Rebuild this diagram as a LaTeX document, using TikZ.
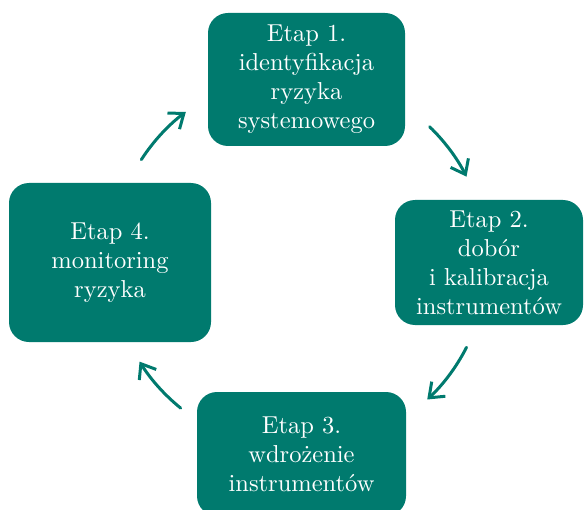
\documentclass[tikz,border=0pt]{standalone}
\usepackage{fontspec}
\setmainfont{lmroman10-regular.otf}
\usetikzlibrary{arrows.meta}
\definecolor{etapTeal}{RGB}{0,122,110}

\begin{document}
\begin{tikzpicture}[x=1pt, y=1pt]%
  \tikzset{etap box/.style={fill=etapTeal, rounded corners=20pt, text=white, align=center, inner sep=0pt, font=\fontsize{24.5}{29}\selectfont}}
  \tikzset{cycle arrow/.style={draw, -{Straight Barb[length=13pt,width=20pt]}, line width=3pt, line cap=round, etapTeal}}
  \useasboundingbox (0,0) rectangle (585,509);

  \coordinate (mid) at (299,247);
  \node[etap box, minimum width=197pt, minimum height=133pt] at (306.5,429.5) (E1) {Etap 1.\\identyfikacja\\ryzyka\\systemowego};
  \node[etap box, minimum width=188pt, minimum height=125pt] at (489,246.5) (E2) {Etap 2.\\dobór\\i kalibracja\\instrumentów};
  \node[etap box, minimum width=209pt, minimum height=124pt] at (301.5,55) (E3) {Etap 3.\\wdrożenie\\instrumentów};
  \node[etap box, minimum width=202pt, minimum height=159pt] at (110,246.5) (E4) {Etap 4.\\monitoring\\ryzyka};

  % arrows round the cycle
  \foreach \s/\e [count=\i] in {147/127, 46/27, -27/-47, -129/-148}{
    \coordinate (a\i) at ([shift={(\s:188)}]mid);
    \draw[cycle arrow] (a\i) arc[start angle=\s, end angle=\e, radius=188];
  }
\end{tikzpicture}
\end{document}
